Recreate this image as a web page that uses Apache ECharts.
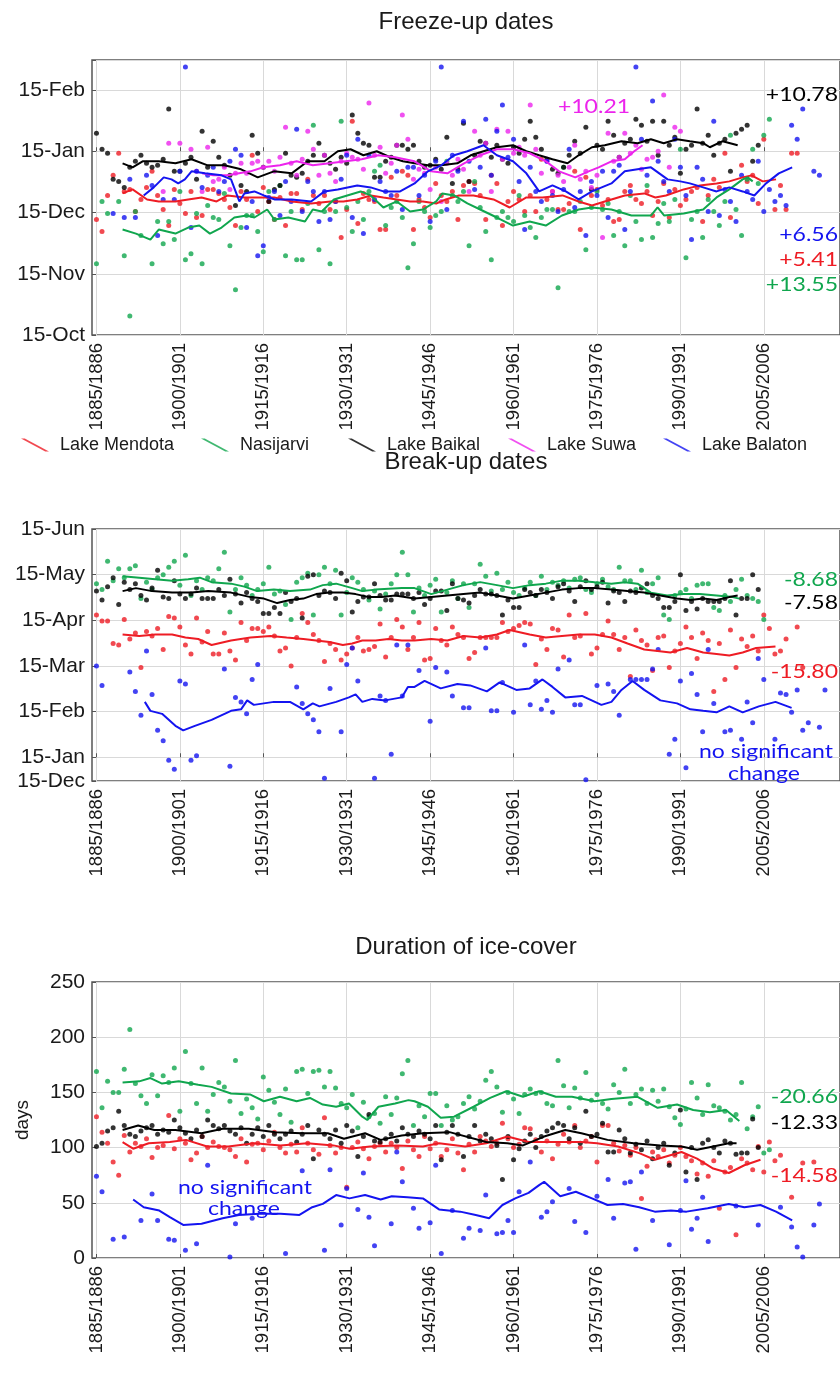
<!DOCTYPE html>
<html><head><meta charset="utf-8">
<script src="https://cdn.jsdelivr.net/npm/echarts@6/dist/echarts.min.js"></script>
<style>html,body{margin:0;padding:0;background:#fff}#c{width:840px;height:1376px}</style>
</head><body><div id="c"></div>
<script>
// ---------- axis labels ----------
const tickYears = [1885,1900,1915,1930,1945,1960,1975,1990,2005];
const freezeTickLabels = ['15-Oct','15-Nov','15-Dec','15-Jan','15-Feb'];          // -3..1 months from 15-Jan
const breakTickLabels  = ['15-Dec','15-Jan','15-Feb','15-Mar','15-Apr','15-May','15-Jun']; // -1..5
const lakes = ['Lake Mendota','Nasijarvi','Lake Baikal','Lake Suwa','Lake Balaton'];

// ---------- Freeze-up (days relative to 15-Jan) ----------
const freezeMendota = [[1885,-34],[1886,-40],[1887,-22],[1888,-12],[1889,-1],[1890,-20],[1891,-19],[1892,-30],[1893,-24],[1894,-18],[1895,-10],[1896,-22],[1897,-29],[1898,-37],[1899,-19],[1900,-26],[1901,-31],[1902,-20],[1903,-33],[1904,-32],[1905,-19],[1906,-19],[1907,-21],[1908,-24],[1909,-28],[1910,-37],[1911,-20],[1912,-24],[1913,-2],[1914,-30],[1915,-18],[1916,-25],[1917,-34],[1918,-23],[1919,-37],[1920,-21],[1921,-21],[1922,-29],[1923,-14],[1924,-22],[1925,-26],[1926,-22],[1927,-29],[1928,-25],[1929,-43],[1930,-29],[1931,15],[1932,-36],[1933,-21],[1934,-24],[1935,-25],[1936,-39],[1937,-39],[1938,-13],[1939,-22],[1940,-10],[1941,-12],[1942,-39],[1943,-24],[1944,-28],[1945,-33],[1946,-16],[1947,-22],[1948,-25],[1949,-20],[1950,-34],[1951,-17],[1952,-15],[1953,-16],[1954,-22],[1955,-34],[1956,-12],[1957,-16],[1958,-37],[1959,-25],[1960,-20],[1961,-24],[1962,-30],[1963,-22],[1964,-30],[1965,-4],[1966,-24],[1967,-20],[1968,-29],[1969,-29],[1970,-26],[1971,-10],[1972,-39],[1973,-13],[1974,-22],[1975,-19],[1976,-27],[1977,-24],[1978,-35],[1979,-34],[1980,-20],[1981,-17],[1982,-24],[1983,-26],[1984,-20],[1985,-32],[1986,-25],[1987,-16],[1988,-33],[1989,-19],[1990,-27],[1991,-24],[1992,-20],[1993,-18],[1994,-35],[1995,-22],[1996,-14],[1997,-18],[1998,-1],[1999,-33],[2001,-7],[2002,-15],[2003,-12],[2004,-26],[2005,6],[2007,-29],[2008,-17],[2009,-29],[2010,-1],[2011,-1]];
const freezeNasijarvi = [[1885,-56],[1886,-25],[1887,-31],[1889,-25],[1890,-52],[1891,-82],[1892,-30],[1893,-42],[1895,-56],[1896,-35],[1897,-46],[1898,-35],[1899,-44],[1900,-20],[1901,-54],[1902,-51],[1903,-31],[1904,-56],[1905,-27],[1906,-33],[1907,-34],[1908,-21],[1909,-47],[1910,-69],[1911,-38],[1912,-32],[1913,-32],[1914,-40],[1915,-50],[1916,-20],[1917,-34],[1918,-17],[1919,-52],[1920,-30],[1921,-54],[1922,-54],[1923,-26],[1924,13],[1925,-49],[1926,-30],[1927,-56],[1928,-30],[1929,15],[1930,-28],[1931,-40],[1932,-25],[1933,-34],[1934,-20],[1935,-10],[1936,-7],[1937,-37],[1938,-28],[1939,-25],[1940,-33],[1941,-58],[1942,-46],[1943,-25],[1944,-30],[1945,-38],[1946,-32],[1947,-30],[1948,-5],[1949,-22],[1950,-25],[1951,-20],[1952,-47],[1953,-15],[1954,-28],[1955,-40],[1956,-54],[1957,-33],[1958,-30],[1959,-33],[1960,-35],[1961,-22],[1962,-32],[1963,-38],[1964,-43],[1965,-33],[1966,-29],[1967,-29],[1968,-68],[1969,-8],[1970,-30],[1971,-30],[1972,-25],[1973,-49],[1974,-28],[1975,-20],[1976,-29],[1977,-26],[1978,-42],[1979,-30],[1980,-47],[1981,-22],[1982,-35],[1983,-44],[1984,-17],[1985,-43],[1986,-36],[1987,-26],[1988,-35],[1989,-24],[1990,1],[1991,-53],[1992,-34],[1993,-30],[1994,-43],[1995,-24],[1996,-30],[1997,-37],[1998,-25],[1999,8],[2000,-29],[2001,-42],[2002,-14],[2003,1],[2004,-16],[2005,8],[2006,16]];
const freezeBaikal = [[1885,9],[1886,1],[1887,-1],[1888,-14],[1889,-15],[1890,-18],[1891,-8],[1892,-5],[1893,-2],[1894,-6],[1895,-8],[1896,-7],[1897,-4],[1898,21],[1899,-10],[1900,-10],[1901,-6],[1902,-3],[1903,-14],[1904,10],[1905,-8],[1906,5],[1907,-3],[1908,-7],[1909,-12],[1910,-27],[1911,-17],[1912,-20],[1913,8],[1914,-1],[1915,-8],[1916,-25],[1917,-19],[1918,-17],[1919,-1],[1920,-12],[1921,-13],[1922,-11],[1923,-5],[1924,-2],[1925,4],[1926,-2],[1927,-6],[1928,-9],[1929,-3],[1930,-6],[1931,18],[1932,9],[1933,4],[1934,3],[1935,-13],[1936,-13],[1937,-5],[1938,-3],[1939,3],[1940,3],[1941,1],[1942,3],[1943,-5],[1944,-8],[1945,-7],[1946,-4],[1947,-9],[1948,7],[1949,-16],[1950,-9],[1951,14],[1952,-15],[1953,-2],[1954,5],[1955,4],[1956,-3],[1957,3],[1958,-4],[1959,-6],[1960,2],[1961,-1],[1962,6],[1963,15],[1964,7],[1965,1],[1966,-4],[1967,-9],[1968,-11],[1969,-8],[1970,-2],[1971,5],[1972,-1],[1973,12],[1974,-19],[1975,3],[1976,1],[1977,15],[1978,8],[1979,-3],[1980,4],[1981,6],[1982,16],[1983,13],[1984,5],[1985,15],[1986,-2],[1987,15],[1988,3],[1989,7],[1990,-11],[1991,1],[1992,3],[1993,21],[1994,4],[1995,8],[1996,-2],[1997,4],[1998,6],[1999,-10],[2000,9],[2001,11],[2002,13],[2003,-5],[2004,3]];
const freezeSuwa = [[1897,-20],[1898,4],[1900,4],[1902,1],[1903,-10],[1904,-20],[1905,2],[1906,-15],[1907,-14],[1908,-8],[1909,-19],[1910,-11],[1911,-6],[1912,-11],[1913,-6],[1914,-5],[1915,-8],[1916,-5],[1917,-10],[1918,-3],[1919,12],[1920,-6],[1921,-12],[1922,-4],[1923,10],[1924,1],[1925,-12],[1926,-2],[1927,-11],[1928,-15],[1929,-5],[1930,-1],[1931,-3],[1932,-4],[1933,-9],[1934,24],[1935,-2],[1936,2],[1937,-11],[1938,-6],[1939,3],[1940,18],[1941,6],[1942,-14],[1943,-9],[1944,-11],[1945,-19],[1946,-8],[1947,-25],[1948,-6],[1949,-12],[1950,-4],[1951,-9],[1952,-20],[1953,10],[1954,-2],[1955,4],[1956,-20],[1957,11],[1958,-4],[1959,10],[1960,-1],[1961,2],[1962,-2],[1963,23],[1964,1],[1965,-11],[1966,-5],[1967,-20],[1968,-12],[1969,-15],[1970,-8],[1971,3],[1972,-14],[1973,-10],[1974,-18],[1975,-12],[1976,-43],[1977,9],[1978,-5],[1979,-3],[1980,9],[1981,-1],[1982,3],[1983,-9],[1984,-4],[1985,-3],[1986,0],[1987,28],[1988,-8],[1989,12],[1990,10]];
const freezeBalaton = [[1888,-31],[1890,-33],[1891,-14],[1892,-33],[1894,-12],[1895,-17],[1896,-42],[1897,-24],[1899,-24],[1900,-10],[1901,42],[1902,-38],[1903,-10],[1904,-18],[1905,-12],[1906,-8],[1907,-20],[1908,-15],[1909,-5],[1910,1],[1911,-2],[1912,-38],[1913,-25],[1914,-52],[1915,-47],[1916,-23],[1917,-20],[1918,-32],[1919,-15],[1920,-25],[1921,11],[1922,-30],[1923,-15],[1924,-20],[1925,-35],[1926,-20],[1927,-34],[1928,-25],[1929,-14],[1930,-2],[1931,-33],[1932,6],[1933,-41],[1934,-2],[1935,-24],[1936,-15],[1937,-20],[1938,-22],[1939,-10],[1940,-29],[1941,-8],[1942,-8],[1943,-22],[1944,-12],[1945,-35],[1946,-5],[1947,42],[1948,-29],[1949,-2],[1950,-10],[1951,15],[1952,-5],[1953,-19],[1954,-8],[1955,16],[1956,-12],[1957,10],[1958,23],[1959,-3],[1960,6],[1961,-15],[1962,-39],[1963,-8],[1964,-20],[1965,-25],[1966,-5],[1967,-22],[1968,-30],[1969,-19],[1970,1],[1971,-28],[1972,-20],[1973,-42],[1974,-15],[1975,-22],[1976,-10],[1977,-33],[1978,-10],[1979,-7],[1980,-39],[1981,-20],[1982,42],[1983,6],[1984,-12],[1985,25],[1986,-5],[1987,-15],[1988,-20],[1989,6],[1990,-8],[1991,-22],[1992,-44],[1993,-8],[1994,-14],[1995,-30],[1996,15],[1997,-32],[1998,-19],[1999,-25],[2000,-35],[2001,-12],[2002,-20],[2003,-24],[2004,-5],[2005,-30],[2006,-19],[2007,-25],[2008,-22],[2009,-27],[2010,13],[2011,6],[2012,21],[2014,-10],[2015,-12]];
const freezeMendotaMA = [[1889.7,-21],[1891.5,-19],[1894.1,-24],[1896.2,-25],[1899.2,-25],[1901.5,-24],[1903.9,-23],[1906.6,-25],[1908.6,-22],[1911.6,-23],[1915,-23],[1917,-23],[1920.1,-25],[1923.6,-26],[1927.1,-25],[1929.4,-25],[1931.9,-24],[1934.3,-22],[1936.6,-23],[1939,-24],[1941.4,-25],[1943.7,-25],[1946.1,-26],[1947.8,-24],[1950.2,-22],[1952.8,-22],[1956.4,-24],[1959.3,-28],[1962.3,-23],[1965.2,-23],[1968.8,-22],[1971.7,-25],[1974.1,-27],[1976.4,-25],[1980,-22],[1983.5,-21],[1985.5,-23],[1987.4,-22],[1990.6,-19],[1993.5,-17],[1996.5,-16],[1998.8,-15],[2001.2,-13],[2002.8,-12],[2004.8,-15],[2007.2,-14]];
const freezeNasijarviMA = [[1889.7,-39],[1892.1,-41],[1894.7,-44],[1896.2,-39],[1899.2,-41],[1901.5,-38],[1903.5,-37],[1905.4,-41],[1907.5,-38],[1909.8,-33],[1912,-32],[1913.4,-33],[1915.7,-29],[1917,-34],[1919.5,-33],[1922.5,-35],[1923.9,-29],[1925.5,-30],[1927.7,-24],[1930.1,-22],[1932.5,-20],[1934.3,-22],[1936.6,-28],[1939,-25],[1941.4,-30],[1943.7,-29],[1946.1,-25],[1947.2,-21],[1949.3,-22],[1951.7,-26],[1954,-29],[1957,-33],[1959.9,-37],[1962.9,-35],[1965.8,-37],[1968.7,-32],[1971.7,-29],[1974.1,-28],[1977.6,-29],[1981.2,-32],[1984.7,-32],[1985.9,-28],[1987.1,-32],[1990.6,-31],[1994.1,-29],[1996.5,-23],[1998.8,-19],[2001.2,-14],[2002.1,-13],[2003,-15]];
const freezeBaikalMA = [[1889.7,-6],[1891.5,-8],[1893.3,-5],[1896.2,-5],[1899.2,-6],[1902.1,-4],[1905,-7],[1908,-7],[1911,-9],[1914,-13],[1916.9,-10],[1920.1,-11],[1923,-5],[1926,-5],[1928.4,0],[1930.7,1],[1933,-2],[1935.4,0],[1937.8,-3],[1940.1,-5],[1942.2,-6],[1944.6,-7],[1947,-7],[1949.9,-6],[1952.3,-2],[1954.6,0],[1957,2],[1959.9,3],[1962.3,0],[1964.6,-2],[1967,-4],[1969.7,-6],[1971.7,-2],[1974.1,2],[1976.4,3],[1979.4,5],[1982.3,4],[1984.7,6],[1987,4],[1989.4,6],[1991.7,5],[1994.1,4],[1995.3,2],[1997.6,5],[2000.3,3]];
const freezeSuwaMA = [[1904,-11],[1906,-12],[1908.6,-12],[1912.7,-10],[1915,-8],[1918,-7],[1921,-5],[1923.9,-7],[1926.9,-6],[1929.8,-5],[1932.7,-4],[1935.7,-2],[1938.7,-3],[1942.2,-5],[1945.2,-10],[1948.1,-11],[1951.1,-6],[1954,-2],[1957,1],[1959.9,1],[1962.9,-1],[1965.8,-5],[1968.2,-10],[1971.1,-13],[1973.5,-10],[1975.3,-8],[1977.6,-5],[1980,-4],[1981.7,0],[1983.2,3]];
const freezeBalatonMA = [[1893.5,-22],[1895.3,-18],[1897.1,-13],[1898.5,-14],[1899.7,-16],[1900.9,-14],[1902.1,-10],[1904.5,-11],[1907.5,-12],[1909.2,-14],[1910.7,-25],[1911.6,-21],[1913.4,-20],[1915.1,-22],[1917.1,-24],[1920.1,-24],[1923.6,-25],[1926,-20],[1928.4,-19],[1931.9,-17],[1934.3,-18],[1936.6,-20],[1939.6,-20],[1942.2,-16],[1944.6,-10],[1947,-7],[1949.3,-2],[1951.7,0],[1954.6,3],[1957,-2],[1959.9,-5],[1962.3,-11],[1964.6,-20],[1967,-17],[1969.4,-20],[1971.7,-24],[1974.1,-20],[1977.6,-16],[1980,-10],[1982.3,-9],[1984.7,-8],[1987.7,-14],[1990,-15],[1991.7,-16],[1994.1,-18],[1996.5,-20],[1998.8,-18],[2001.2,-20],[2003.3,-22],[2005.4,-16],[2007.7,-11],[2010.1,-8]];

// ---------- Break-up (days relative to 15-Jan) ----------
const breakMendota = [[1885,95],[1886,91],[1887,91],[1888,76],[1889,75],[1890,92],[1891,79],[1892,83],[1893,60],[1894,84],[1895,81],[1896,86],[1897,72],[1898,94],[1899,93],[1900,87],[1901,75],[1902,69],[1903,93],[1904,77],[1905,84],[1906,69],[1907,69],[1908,83],[1909,71],[1910,65],[1911,90],[1912,78],[1913,86],[1914,86],[1915,84],[1916,87],[1917,81],[1918,71],[1919,73],[1920,61],[1921,80],[1922,96],[1923,90],[1924,82],[1925,78],[1926,64],[1927,76],[1928,72],[1929,65],[1930,69],[1931,73],[1932,80],[1933,71],[1934,72],[1935,74],[1936,89],[1937,67],[1938,80],[1939,92],[1940,87],[1941,72],[1942,80],[1943,90],[1944,65],[1945,66],[1946,86],[1947,78],[1948,75],[1949,87],[1950,82],[1951,80],[1952,66],[1953,70],[1954,80],[1955,80],[1956,80],[1957,80],[1958,90],[1959,84],[1960,86],[1961,88],[1962,90],[1963,89],[1964,62],[1965,79],[1966,72],[1967,86],[1968,85],[1969,67],[1970,95],[1971,80],[1972,81],[1973,96],[1974,69],[1975,73],[1976,82],[1977,91],[1978,82],[1979,72],[1980,80],[1981,54],[1982,85],[1983,78],[1984,75],[1985,58],[1986,80],[1987,81],[1988,60],[1989,71],[1990,76],[1991,87],[1992,80],[1993,66],[1994,83],[1995,78],[1996,44],[1997,76],[1998,52],[1999,85],[2000,60],[2001,79],[2002,74],[2003,81],[2004,71],[2005,95],[2006,86],[2007,69],[2008,71],[2009,79],[2011,87],[2012,60]];
const breakNasijarvi = [[1885,116],[1886,112],[1887,131],[1888,118],[1889,126],[1890,120],[1891,126],[1892,128],[1893,106],[1894,117],[1895,112],[1896,120],[1897,122],[1898,127],[1899,131],[1900,115],[1901,135],[1902,108],[1903,118],[1904,112],[1905,120],[1906,118],[1907,126],[1908,137],[1909,97],[1910,112],[1911,120],[1912,115],[1913,108],[1914,112],[1915,116],[1916,127],[1917,109],[1918,111],[1919,102],[1920,92],[1921,117],[1922,120],[1923,123],[1924,95],[1925,122],[1926,127],[1927,116],[1928,125],[1929,95],[1930,110],[1931,120],[1932,117],[1933,112],[1934,105],[1935,111],[1936,99],[1937,109],[1938,116],[1939,122],[1940,137],[1941,122],[1942,97],[1943,113],[1944,108],[1945,115],[1946,119],[1947,97],[1948,110],[1949,118],[1950,106],[1951,116],[1952,100],[1953,116],[1954,129],[1955,121],[1956,111],[1957,123],[1958,112],[1959,117],[1960,110],[1961,108],[1962,113],[1963,117],[1964,108],[1965,121],[1966,112],[1967,117],[1968,115],[1969,118],[1970,113],[1971,119],[1972,120],[1973,112],[1974,110],[1975,116],[1976,119],[1977,114],[1978,112],[1979,127],[1980,118],[1981,118],[1982,112],[1983,125],[1984,110],[1985,116],[1986,120],[1987,95],[1988,92],[1989,108],[1990,110],[1991,112],[1992,106],[1993,115],[1994,116],[1995,116],[1996,100],[1997,98],[1998,108],[1999,104],[2000,112],[2001,119],[2002,108],[2003,106],[2004,104],[2005,92]];
const breakBaikal = [[1885,111],[1886,105],[1887,114],[1888,120],[1889,102],[1890,117],[1891,112],[1892,116],[1893,108],[1894,105],[1895,113],[1896,125],[1897,107],[1898,106],[1899,118],[1900,109],[1901,106],[1902,109],[1903,113],[1904,106],[1905,106],[1906,106],[1907,112],[1908,108],[1909,119],[1910,109],[1911,103],[1912,110],[1913,106],[1914,104],[1915,96],[1916,96],[1917,100],[1918,96],[1919,110],[1920,104],[1921,106],[1922,93],[1923,121],[1924,122],[1925,108],[1926,111],[1927,110],[1928,106],[1929,123],[1930,118],[1931,97],[1932,104],[1933,107],[1934,107],[1935,116],[1936,108],[1937,105],[1938,105],[1939,109],[1940,109],[1941,109],[1942,106],[1943,110],[1944,102],[1945,106],[1946,111],[1947,111],[1948,98],[1949,116],[1950,106],[1951,105],[1952,103],[1953,108],[1954,112],[1955,109],[1956,109],[1957,108],[1958,95],[1959,105],[1960,100],[1961,100],[1962,112],[1963,110],[1964,108],[1965,112],[1966,110],[1967,106],[1968,114],[1969,116],[1970,111],[1971,104],[1972,114],[1973,118],[1974,112],[1975,114],[1976,117],[1977,103],[1978,111],[1979,110],[1980,104],[1981,111],[1982,110],[1983,113],[1984,116],[1985,108],[1986,106],[1987,100],[1988,100],[1989,104],[1990,122],[1991,98],[1992,104],[1993,99],[1994,106],[1995,104],[1996,104],[1997,104],[1998,106],[1999,118],[2000,95],[2001,106],[2002,106],[2003,122],[2004,112]];
const breakBalaton = [[1885,61],[1886,48],[1891,57],[1892,44],[1893,28],[1894,71],[1895,42],[1896,18],[1897,11],[1898,-2],[1899,-8],[1900,51],[1901,49],[1902,-2],[1903,1],[1908,59],[1909,-6],[1910,40],[1911,37],[1912,29],[1913,52],[1914,62],[1921,47],[1922,36],[1923,29],[1924,25],[1925,17],[1926,-14],[1927,46],[1929,17],[1930,62],[1931,73],[1932,51],[1935,-14],[1936,41],[1937,38],[1938,2],[1939,75],[1940,41],[1941,75],[1943,58],[1945,24],[1946,60],[1948,57],[1949,41],[1951,33],[1952,33],[1955,73],[1956,31],[1957,31],[1958,50],[1960,30],[1962,75],[1963,35],[1964,51],[1965,32],[1966,38],[1967,30],[1968,59],[1970,65],[1971,35],[1972,35],[1973,-15],[1975,48],[1977,49],[1978,44],[1979,28],[1981,52],[1982,52],[1983,52],[1984,52],[1985,59],[1986,72],[1988,2],[1989,12],[1990,51],[1991,-7],[1992,56],[1993,42],[1994,17],[1995,72],[1996,36],[1998,17],[1999,18],[2001,12],[2002,37],[2003,23],[2004,66],[2005,52],[2007,12],[2008,43],[2009,42],[2010,30],[2011,45],[2012,18],[2013,23],[2015,20],[2016,45]];
const breakMendotaMA = [[1889.7,82],[1892.7,81],[1895.6,82],[1898.6,82],[1901,80],[1903.3,79],[1905.7,75],[1909.2,78],[1912.7,80],[1916.3,81],[1919.2,80],[1922.2,79],[1924.5,78],[1926.9,77],[1929.3,75],[1931,76],[1932.8,78],[1935.2,78],[1937.5,79],[1939.9,78],[1942.2,78],[1945.2,79],[1948.1,78],[1951,81],[1954,80],[1957,82],[1959.3,85],[1962.9,82],[1965.8,80],[1968.7,81],[1971.7,82],[1974.6,82],[1977.6,80],[1980.5,76],[1983.5,72],[1985.9,71],[1988.2,70],[1991.2,73],[1994.1,70],[1996.5,69],[1998.8,68],[2001.2,70],[2003.6,73],[2007.1,74]];
const breakNasijarviMA = [[1889.7,121],[1892.7,120],[1895.6,119],[1898.6,118],[1901.5,119],[1903.6,120],[1905.7,117],[1909.2,116],[1911.6,114],[1913.9,111],[1916.9,112],[1919.8,111],[1923.4,112],[1925.7,115],[1928.1,116],[1931,113],[1932.8,111],[1935.2,112],[1939.9,113],[1942.2,113],[1945.2,109],[1948.1,112],[1951,115],[1954,117],[1957,115],[1959.9,113],[1962.9,115],[1965.8,116],[1968.7,118],[1971.7,118],[1974.6,117],[1977.6,116],[1980,117],[1982.3,116],[1984.7,110],[1987.6,108],[1990.6,109],[1993.5,109],[1996.5,108],[1999.4,107],[2000.6,106]];
const breakBaikalMA = [[1889.7,111],[1892.1,113],[1895,111],[1898.6,110],[1902.1,110],[1905.1,111],[1909.2,110],[1912.7,107],[1915.1,106],[1917.5,103],[1919.8,105],[1922.2,106],[1924.5,109],[1926.9,110],[1929.3,110],[1931.6,109],[1934,107],[1936.3,107],[1938.7,108],[1942.2,106],[1945.2,107],[1948.1,108],[1951,109],[1954,110],[1957,108],[1959.9,106],[1962.9,108],[1965.8,110],[1968.7,112],[1971.7,113],[1974.6,113],[1977.6,112],[1980.5,111],[1983.5,110],[1986.4,108],[1989.4,106],[1991.8,105],[1994.1,106],[1996.5,105],[1998.8,107],[2000.3,108]];
const breakBalatonMA = [[1893.7,37],[1894.7,31],[1896.8,29],[1899.2,21],[1900.6,18],[1902.7,21],[1905.7,25],[1909.2,31],[1911,32],[1912.1,38],[1913.3,35],[1916.9,37],[1919.8,37],[1922.2,32],[1923.9,36],[1925.1,34],[1928.1,37],[1930.4,40],[1931.6,42],[1932.8,37],[1934.6,39],[1936.9,38],[1939.9,40],[1941,47],[1942.2,47],[1944,51],[1946.9,46],[1949.9,49],[1952.2,48],[1955.2,44],[1957.5,50],[1960.5,45],[1962.9,46],[1965.2,52],[1967,47],[1969.3,40],[1972.3,41],[1975.8,35],[1977.6,37],[1979.4,45],[1981.4,51],[1983.5,45],[1986.4,38],[1989.4,36],[1991.8,32],[1994.1,31],[1996.5,30],[1998.8,34],[2001.2,30],[2004.1,34],[2007.1,37],[2010,33]];

// ---------- Duration (days) ----------
const durMendota = [[1885,128],[1886,114],[1887,104],[1888,87],[1889,75],[1890,111],[1891,96],[1892,104],[1893,101],[1894,108],[1895,91],[1896,100],[1897,102],[1898,129],[1899,99],[1900,108],[1901,104],[1902,89],[1903,95],[1904,110],[1905,100],[1906,105],[1907,101],[1908,100],[1909,98],[1910,92],[1911,108],[1912,87],[1913,103],[1914,104],[1915,98],[1916,106],[1917,114],[1918,100],[1919,95],[1920,103],[1921,96],[1922,118],[1923,104],[1924,98],[1925,94],[1926,127],[1927,102],[1928,95],[1929,100],[1930,64],[1931,100],[1932,105],[1933,99],[1934,90],[1935,101],[1936,104],[1937,96],[1938,104],[1939,100],[1940,81],[1941,106],[1942,98],[1943,92],[1944,110],[1945,99],[1946,104],[1947,92],[1948,98],[1949,108],[1950,95],[1951,80],[1952,103],[1953,96],[1954,110],[1955,106],[1956,101],[1957,104],[1958,122],[1959,108],[1960,100],[1961,103],[1962,118],[1963,117],[1964,107],[1965,96],[1966,106],[1967,90],[1968,103],[1969,112],[1970,105],[1971,120],[1972,100],[1973,106],[1974,110],[1975,87],[1976,120],[1977,120],[1978,104],[1979,97],[1980,102],[1981,93],[1982,100],[1983,54],[1984,83],[1985,96],[1986,92],[1987,98],[1988,86],[1989,93],[1990,100],[1991,92],[1992,88],[1993,76],[1994,86],[1995,74],[1996,88],[1997,45],[1998,78],[1999,82],[2000,21],[2001,90],[2002,86],[2003,80],[2004,101],[2005,78],[2006,105],[2007,88],[2008,93],[2010,55],[2012,86],[2014,87]];
const durNasijarvi = [[1885,169],[1886,136],[1887,160],[1888,150],[1889,150],[1890,171],[1891,207],[1892,158],[1893,147],[1894,140],[1895,166],[1896,147],[1897,165],[1898,159],[1899,172],[1900,133],[1901,187],[1902,158],[1903,140],[1904,172],[1905,133],[1906,148],[1907,159],[1908,155],[1909,142],[1910,179],[1911,131],[1912,144],[1913,136],[1914,126],[1915,164],[1916,152],[1917,141],[1918,130],[1919,153],[1920,123],[1921,169],[1922,171],[1923,149],[1924,169],[1925,170],[1926,155],[1927,169],[1928,154],[1929,140],[1930,136],[1931,148],[1932,118],[1933,141],[1934,128],[1935,131],[1936,122],[1937,146],[1938,130],[1939,145],[1940,167],[1941,179],[1942,120],[1943,138],[1944,128],[1945,149],[1946,149],[1947,120],[1948,138],[1949,125],[1950,128],[1951,140],[1952,146],[1953,135],[1954,142],[1955,161],[1956,169],[1957,155],[1958,132],[1959,150],[1960,144],[1961,131],[1962,148],[1963,153],[1964,149],[1965,150],[1966,140],[1967,138],[1968,179],[1969,156],[1970,136],[1971,154],[1972,145],[1973,168],[1974,143],[1975,148],[1976,140],[1977,135],[1978,157],[1979,150],[1980,171],[1981,140],[1982,148],[1983,153],[1984,140],[1985,152],[1986,142],[1987,153],[1988,137],[1989,127],[1990,121],[1991,135],[1992,159],[1993,145],[1994,130],[1995,157],[1996,138],[1997,136],[1998,133],[1999,125],[2000,130],[2001,159],[2002,117],[2003,128],[2004,137],[2005,95],[2006,98]];
const durBaikal = [[1885,101],[1886,104],[1887,115],[1888,118],[1889,133],[1890,120],[1891,112],[1892,110],[1893,115],[1894,118],[1895,120],[1896,112],[1897,116],[1898,114],[1899,125],[1900,118],[1901,113],[1902,108],[1903,116],[1904,110],[1905,125],[1906,120],[1907,117],[1908,120],[1909,115],[1910,112],[1911,118],[1912,104],[1913,112],[1914,118],[1915,110],[1916,120],[1917,112],[1918,108],[1919,112],[1920,115],[1921,105],[1922,112],[1923,120],[1924,90],[1925,116],[1926,112],[1927,108],[1928,116],[1929,104],[1930,120],[1931,115],[1932,92],[1933,110],[1934,130],[1935,106],[1936,105],[1937,108],[1938,112],[1939,106],[1940,118],[1941,112],[1942,110],[1943,115],[1944,112],[1945,108],[1946,120],[1947,89],[1948,114],[1949,120],[1950,112],[1951,92],[1952,110],[1953,120],[1954,106],[1955,112],[1956,108],[1957,102],[1958,71],[1959,110],[1960,89],[1961,99],[1962,106],[1963,112],[1964,100],[1965,110],[1966,115],[1967,118],[1968,122],[1969,120],[1970,108],[1971,118],[1972,104],[1973,133],[1974,110],[1975,112],[1976,122],[1977,96],[1978,96],[1979,116],[1980,108],[1981,95],[1982,103],[1983,98],[1984,106],[1985,90],[1986,100],[1987,104],[1988,84],[1989,95],[1990,134],[1991,78],[1992,100],[1993,71],[1994,104],[1995,107],[1996,100],[1997,95],[1998,106],[1999,104],[2000,94],[2001,95],[2002,95],[2003,126],[2004,100]];
const durBalaton = [[1885,74],[1886,60],[1888,17],[1890,19],[1893,34],[1895,58],[1896,34],[1898,17],[1899,16],[1901,7],[1903,13],[1905,84],[1909,1],[1910,31],[1913,36],[1919,4],[1922,79],[1926,7],[1927,80],[1929,30],[1930,63],[1932,44],[1933,77],[1934,37],[1935,11],[1938,31],[1939,96],[1940,69],[1942,45],[1943,27],[1945,32],[1946,84],[1947,4],[1949,43],[1951,18],[1952,27],[1954,25],[1955,57],[1957,22],[1958,23],[1959,34],[1960,23],[1961,60],[1963,87],[1965,37],[1966,42],[1967,51],[1970,63],[1971,33],[1973,23],[1975,56],[1977,71],[1978,36],[1980,68],[1981,69],[1982,8],[1983,78],[1985,34],[1988,12],[1990,43],[1991,70],[1992,26],[1993,36],[1994,55],[1995,15],[2000,47],[2004,30],[2008,46],[2010,28],[2011,10],[2012,1],[2014,30],[2015,49]];
const durMendotaMA = [[1889.7,105],[1891.6,99],[1894.4,104],[1898.2,105],[1901.1,107],[1904.9,101],[1908.7,101],[1913.4,104],[1918.1,102],[1922.9,104],[1927.6,102],[1930.5,99],[1934.2,101],[1939,102],[1943.7,101],[1946.6,104],[1951.3,101],[1955.1,104],[1958.9,110],[1962.7,105],[1967.4,105],[1972.2,105],[1975,104],[1978.8,101],[1982.6,95],[1985.4,89],[1990.2,96],[1993,90],[1995.9,81],[1998.7,77],[2001.5,84],[2004.4,89]];
const durNasijarviMA = [[1889.7,159],[1892.7,160],[1894.7,163],[1896.8,158],[1899.8,160],[1903.3,157],[1905.7,155],[1909.2,149],[1912.7,148],[1915.1,142],[1918,146],[1921,142],[1923.4,145],[1925.7,139],[1928.1,137],[1930.4,140],[1932.8,128],[1933.7,125],[1935.7,137],[1938.7,140],[1941.1,143],[1942.2,142],[1944.6,137],[1946.9,127],[1949.3,128],[1952.8,137],[1955.8,145],[1958.7,151],[1961.7,146],[1964.6,151],[1967.6,146],[1970.5,146],[1974.6,142],[1977.6,144],[1982.3,146],[1985.9,136],[1989.4,139],[1992.3,134],[1995.3,132],[1998.2,134],[2000.6,124]];
const durBaikalMA = [[1889.7,116],[1892.5,120],[1895.4,116],[1899.2,116],[1903.9,113],[1907.7,117],[1912.4,117],[1917.2,114],[1921.9,113],[1926.6,113],[1929.5,108],[1933.3,113],[1936.1,107],[1939.9,111],[1943.7,113],[1948.5,114],[1955.1,105],[1958.9,104],[1961.7,102],[1965.5,110],[1969.3,116],[1972.2,113],[1976.9,107],[1981.6,104],[1986.4,102],[1990.2,101],[1993,98],[1995.9,101],[1998.7,104],[2000.1,104]];
const durBalatonMA = [[1891.6,53],[1893.5,46],[1896.3,43],[1898.2,37],[1900.6,30],[1903.9,31],[1907.7,36],[1910.6,39],[1914.3,40],[1918.1,40],[1921.5,39],[1923.8,46],[1925.7,49],[1928.1,57],[1930.5,54],[1933.3,57],[1936.1,53],[1938.1,56],[1940.9,55],[1943.7,54],[1946.6,44],[1950.4,42],[1953.2,39],[1955.6,36],[1958,48],[1960.3,54],[1962.7,59],[1964.6,66],[1965.5,69],[1968.4,56],[1971.2,60],[1974.1,54],[1976.9,48],[1979.7,49],[1982.6,46],[1985.4,42],[1988.3,43],[1991.1,42],[1994.9,45],[1998.7,49],[2001.5,46],[2004.4,48],[2007.2,42],[2010.1,34]];

// ---------- build ----------
const colors = ['#ee1c24','#10a64e','#000000','#ec24ec','#1414f0'];
const FONT = '"Liberation Sans", Arial, sans-serif';
const toMonths = a => a.map(p => [p[0], p[1] / 30.5]);

const panels = [
  {dots:[freezeMendota,freezeNasijarvi,freezeBaikal,freezeSuwa,freezeBalaton],
   lines:[freezeMendotaMA,freezeNasijarviMA,freezeBaikalMA,freezeSuwaMA,freezeBalatonMA], conv:toMonths},
  {dots:[breakMendota,breakNasijarvi,breakBaikal,null,breakBalaton],
   lines:[breakMendotaMA,breakNasijarviMA,breakBaikalMA,null,breakBalatonMA], conv:toMonths},
  {dots:[durMendota,durNasijarvi,durBaikal,null,durBalaton],
   lines:[durMendotaMA,durNasijarviMA,durBaikalMA,null,durBalatonMA], conv:a => a}
];

const series = [];
panels.forEach((p, i) => {
  p.dots.forEach((d, k) => { if (!d) return;
    series.push({type:'scatter', name:lakes[k], xAxisIndex:i, yAxisIndex:i, data:p.conv(d),
      symbolSize:5, itemStyle:{color:colors[k]}, z:2, silent:true});
  });
  p.lines.forEach((d, k) => { if (!d) return;
    series.push({type:'line', name:lakes[k], xAxisIndex:i, yAxisIndex:i, data:p.conv(d),
      showSymbol:false, symbol:'none', lineStyle:{width:2, color:colors[k]}, itemStyle:{color:colors[k]}, z:3, silent:true});
  });
});

const gridTops = [60, 529, 982], gridHeights = [275, 252, 276];
const grids = gridTops.map((t, i) => ({left:92, right:-12, top:t, height:gridHeights[i], show:true,
  borderColor:'#555', borderWidth:1.5, backgroundColor:'transparent'}));

const xAxes = grids.map((g, i) => ({type:'value', gridIndex:i, min:1884.2, max:2018.7,
  axisLine:{show:false},
  axisTick:{show:true, inside:true, length:4, customValues:tickYears, lineStyle:{color:'#555'}},
  axisLabel:{customValues:tickYears, rotate:90, margin:8, fontSize:18.5, color:'#1a1a1a', fontFamily:FONT,
    formatter: v => v + '/' + (v + 1)},
  splitLine:{show:true, lineStyle:{color:'#d9d9d9', width:1}}}));

const yCommon = {axisLine:{show:false}, axisTick:{show:true, inside:true, length:4, lineStyle:{color:'#555'}},
  splitLine:{show:true, lineStyle:{color:'#d9d9d9', width:1}}};
const yAxes = [
  Object.assign({type:'value', gridIndex:0, min:-3, max:1.49, interval:1,
    axisLabel:{fontSize:21, color:'#1a1a1a', fontFamily:FONT, margin:7,
      formatter: v => { const r = Math.round(v); return Math.abs(v - r) < 1e-6 ? freezeTickLabels[r + 3] : ''; }}}, yCommon),
  Object.assign({type:'value', gridIndex:1, min:-0.52, max:5, minInterval:1, maxInterval:1,
    axisLabel:{fontSize:21, color:'#1a1a1a', fontFamily:FONT, margin:7,
      formatter: v => { const r = Math.round(v); if (Math.abs(v - r) < 1e-6) return breakTickLabels[r + 1]; return v < 0 ? breakTickLabels[0] : ''; }}}, yCommon),
  Object.assign({type:'value', gridIndex:2, min:0, max:250, interval:50, name:'days', nameLocation:'middle',
    nameRotate:90, nameGap:60, nameTextStyle:{fontSize:19, color:'#1a1a1a', fontFamily:FONT},
    axisLabel:{fontSize:21, color:'#1a1a1a', fontFamily:FONT, margin:7}}, yCommon)
];

const iconPath = 'path://M0,0 L4,0 L30,14 L26,14 Z';
const legendLefts = [16, 196, 343, 503, 658];
const legends = lakes.map((n, k) => ({data:[n], left:legendLefts[k], top:431, icon:iconPath, itemWidth:28, itemHeight:14,
  itemGap:10, textStyle:{fontSize:18, color:'#1a1a1a', fontFamily:FONT, padding:[0,0,0,6]}, selectedMode:false}));

function txt(x, y, text, color, size, align, font, sx) {
  return {type:'text', x:x, y:y, scaleX:sx || 1, silent:true, z:100,
    style:{text:text, x:0, y:0, fill:color, font:size + 'px ' + font, textAlign:align, textVerticalAlign:'middle'}};
}
const ANN = 'Lato, "Open Sans", sans-serif';
const graphics = [
  txt(466, 22, 'Freeze-up dates', '#1a1a1a', 24, 'center', FONT),
  txt(466, 462, 'Break-up dates', '#1a1a1a', 24, 'center', FONT),
  txt(466, 947, 'Duration of ice-cover', '#1a1a1a', 24, 'center', FONT),
  txt(594, 107, '+10.21', colors[3], 20, 'center', ANN, 1.15),
  txt(838, 95, '+10.78', colors[2], 20, 'right', ANN, 1.15),
  txt(838, 235, '+6.56', colors[4], 20, 'right', ANN, 1.15),
  txt(838, 260, '+5.41', colors[0], 20, 'right', ANN, 1.15),
  txt(838, 285, '+13.55', colors[1], 20, 'right', ANN, 1.15),
  txt(838, 580, '-8.68', colors[1], 20, 'right', ANN, 1.15),
  txt(838, 603, '-7.58', colors[2], 20, 'right', ANN, 1.15),
  txt(838, 672, '-15.80', colors[0], 20, 'right', ANN, 1.15),
  txt(766, 752, 'no significant', colors[4], 20, 'center', ANN, 1.15),
  txt(764, 774, 'change', colors[4], 20, 'center', ANN, 1.15),
  txt(838, 1097, '-20.66', colors[1], 20, 'right', ANN, 1.15),
  txt(838, 1123, '-12.33', colors[2], 20, 'right', ANN, 1.15),
  txt(838, 1176, '-14.58', colors[0], 20, 'right', ANN, 1.15),
  txt(245, 1188, 'no significant', colors[4], 20, 'center', ANN, 1.15),
  txt(244, 1209, 'change', colors[4], 20, 'center', ANN, 1.15)
];

const chart = echarts.init(document.getElementById('c'), null, {renderer:'canvas'});
chart.setOption({
  backgroundColor:'#ffffff', animation:false,
  grid:grids, xAxis:xAxes, yAxis:yAxes, legend:legends, series:series, graphic:graphics
});
</script></body></html>
